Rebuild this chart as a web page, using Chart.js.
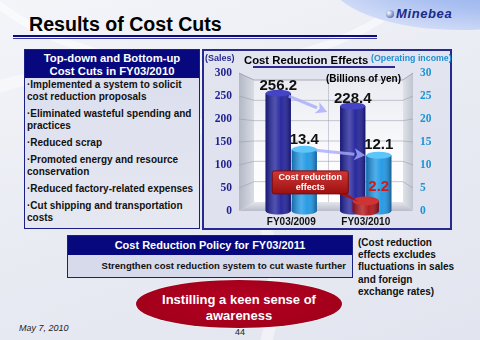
<!DOCTYPE html>
<html><head><meta charset="utf-8">
<script src="https://cdn.jsdelivr.net/npm/chart.js@4.4.1/dist/chart.umd.min.js"></script>
<style>
*{box-sizing:border-box;}
html,body{margin:0;padding:0;}
body{width:480px;height:340px;overflow:hidden;position:relative;font-family:'Liberation Sans',Arial,sans-serif;
 background:linear-gradient(160deg,#f4f5f9 0%,#e9ebf3 50%,#e2e5ef 100%);}
.abs{position:absolute;}
#arc1{left:-150px;top:70px;width:430px;height:430px;border-radius:50%;border:12px solid rgba(255,255,255,0.45);}
#arc2{left:-60px;top:-260px;width:520px;height:330px;border-radius:50%;border:8px solid rgba(255,255,255,0.5);}
#swoosh{left:330px;top:-70px;width:260px;height:100px;border-radius:50%;background:radial-gradient(ellipse at 70% 45%, #8aa8ec 0%, #a9bff1 45%, #d4def7 80%, rgba(235,240,250,0) 100%);}
#logo{left:386px;top:6px;font:italic bold 13px 'Liberation Sans',Arial,sans-serif;color:#1c2a8a;letter-spacing:0.6px;}
#logo span.g{display:inline-block;width:8px;height:8px;border-radius:50%;background:radial-gradient(circle at 35% 35%,#fff,#7a8fc8 60%,#34408a);margin-right:2px;}
#title{left:29px;top:13px;font:bold 19.6px/22px 'Liberation Sans',Arial,sans-serif;color:#000;}
#rule1{left:13px;top:35px;width:364px;height:2.3px;background:#0c0c7a;}
#rule2{left:13px;top:38px;width:364px;height:1.3px;background:#3a3aa6;}
#leftbox{left:24px;top:49px;width:176px;height:180px;border:1.5px solid #1a1f86;background:linear-gradient(180deg,#dadded,#e6e8f1);}
#leftbox .hd{height:28px;background:#08087e;color:#fff;font:bold 11.3px/13px 'Liberation Sans',Arial,sans-serif;text-align:center;padding-top:1.5px;}
#leftbox .bd{padding:1px 0 0 2px;font:bold 10px/12px 'Liberation Sans',Arial,sans-serif;color:#111;}
#leftbox p{margin:0 0 5px 0;}
#chartbox{left:202px;top:49px;width:250px;height:181px;border:2px solid #262a8e;background:linear-gradient(180deg,#e2e5f0,#dfe2ee);}
#cw{left:202px;top:49px;width:250px;height:181px;}
#cw canvas{display:block;}
#sales{left:205px;top:53px;font:bold 9px/10px 'Liberation Sans',Arial,sans-serif;color:#2a2a92;}
#ctitle{left:244px;top:54px;font:bold 11.3px/13px 'Liberation Sans',Arial,sans-serif;color:#000;}
#cline{left:253px;top:66px;width:142px;height:1.5px;background:#2a2a92;}
#oi{left:371px;top:53px;font:bold 8.8px/10px 'Liberation Sans',Arial,sans-serif;color:#1e90d4;}
#yen{left:326px;top:73px;font:bold 10px/12px 'Liberation Sans',Arial,sans-serif;color:#000;}
#policy{left:67px;top:235px;width:286px;height:43px;border:1.5px solid #1a1f86;background:#d6daeb;}
#policy .hd{height:18.5px;background:#08087e;color:#fff;font:bold 11px/18px 'Liberation Sans',Arial,sans-serif;text-align:center;}
#policy .bd{font:bold 9.5px/22px 'Liberation Sans',Arial,sans-serif;color:#111;text-align:right;padding-right:6px;}
#note{left:358px;top:237px;font:bold 10px/12.2px 'Liberation Sans',Arial,sans-serif;color:#111;}
#oval{left:136px;top:280px;width:206px;height:48px;border-radius:50%;background:radial-gradient(ellipse at 50% 45%,#b40022 0%,#a3001c 70%,#94001a 100%);box-shadow:0 0 0 1px rgba(255,255,255,0.35);color:#fff;text-align:center;font:bold 13px/15.5px 'Liberation Sans',Arial,sans-serif;padding-top:12px;}
#date{left:19px;top:323px;font:italic 9px/11px 'Liberation Sans',Arial,sans-serif;color:#222;}
#page{left:235px;top:327px;font:9px/11px 'Liberation Sans',Arial,sans-serif;color:#222;}
</style></head>
<body>
<div class="abs" id="arc1"></div>
<div class="abs" id="arc2"></div>
<div class="abs" id="swoosh"></div>
<div class="abs" id="logo"><span class="g"></span>Minebea</div>
<div class="abs" id="title">Results of Cost Cuts</div>
<div class="abs" id="rule1"></div><div class="abs" id="rule2"></div>

<div class="abs" id="leftbox">
 <div class="hd">Top-down and Bottom-up<br>Cost Cuts in FY03/2010</div>
 <div class="bd">
  <p>·Implemented a system to solicit<br>cost reduction proposals</p>
  <p>·Eliminated wasteful spending and<br>practices</p>
  <p>·Reduced scrap</p>
  <p>·Promoted energy and resource<br>conservation</p>
  <p>·Reduced factory-related expenses</p>
  <p>·Cut shipping and transportation<br>costs</p>
 </div>
</div>

<div class="abs" id="chartbox"></div>
<div class="abs" id="cw"><canvas id="c" width="250" height="181"></canvas></div>
<div class="abs" id="sales">(Sales)</div>
<div class="abs" id="ctitle">Cost Reduction Effects</div>
<div class="abs" id="cline"></div>
<div class="abs" id="oi">(Operating income)</div>
<div class="abs" id="yen">(Billions of yen)</div>

<div class="abs" id="policy">
 <div class="hd">Cost Reduction Policy for FY03/2011</div>
 <div class="bd">Strengthen cost reduction system to cut waste further</div>
</div>
<div class="abs" id="note">(Cost reduction<br>effects excludes<br>fluctuations in sales<br>and foreign<br>exchange rates)</div>
<div class="abs" id="oval">Instilling a keen sense of<br>awareness</div>
<div class="abs" id="date">May 7, 2010</div>
<div class="abs" id="page">44</div>

<script>
const categories = ['FY03/2009', 'FY03/2010'];
const salesValues = [256.2, 228.4];
const operatingIncomeValues = [13.4, 12.1];
const costReductionValues = [null, 2.2];
const salesTicks = [0, 50, 100, 150, 200, 250, 300];
const incomeTicks = [0, 5, 10, 15, 20, 25, 30];
const calloutLines = ['Cost reduction', 'effects'];

const SALES_COLOR = '#21219a';
const OI_COLOR = '#1e98e4';
const RED_COLOR = '#ae1418';
const CAPS = ['#cf3434', '#4444c4', '#5cc6fa'];
const RY = [4.5, 3.5, 3.5];
const DX1 = 15, DX2 = 10, DYT = 7, DYB = 9;
const SERIF = "'Liberation Serif', 'Times New Roman', 'DejaVu Serif', serif";
const AREA_TOP = 24, AREA_BOTTOM = 162;

function poly(ctx, pts, fill) {
  ctx.beginPath(); ctx.moveTo(pts[0][0], pts[0][1]);
  for (let i = 1; i < pts.length; i++) ctx.lineTo(pts[i][0], pts[i][1]);
  ctx.closePath(); ctx.fillStyle = fill; ctx.fill();
}
function arrow(ctx, x1, y1, x2, y2, color, shaft, head) {
  const ang = Math.atan2(y2 - y1, x2 - x1);
  const bx = x2 - Math.cos(ang) * head, by = y2 - Math.sin(ang) * head;
  ctx.save();
  ctx.strokeStyle = color; ctx.lineWidth = shaft; ctx.lineCap = 'butt';
  ctx.beginPath(); ctx.moveTo(x1, y1); ctx.lineTo(bx, by); ctx.stroke();
  ctx.fillStyle = color; ctx.beginPath();
  ctx.moveTo(x2, y2);
  ctx.lineTo(bx + Math.sin(ang) * head * 0.55, by - Math.cos(ang) * head * 0.55);
  ctx.lineTo(bx + Math.cos(ang) * head * 0.25, by + Math.sin(ang) * head * 0.25);
  ctx.lineTo(bx - Math.sin(ang) * head * 0.55, by + Math.cos(ang) * head * 0.55);
  ctx.closePath(); ctx.fill();
  ctx.restore();
}
function noVPad(s, w) { s.width = w; s.paddingTop = 0; s.paddingBottom = 0; }

const decor = {
  id: 'decor',
  beforeDraw(chart) {
    const {ctx, chartArea: a} = chart;
    const L = a.left, R = a.right, T = a.top, B = a.bottom;
    ctx.save();
    let g = ctx.createLinearGradient(0, T, 0, B);
    g.addColorStop(0, '#e9ebf1'); g.addColorStop(0.6, '#fbfbfd'); g.addColorStop(1, '#ffffff');
    ctx.fillStyle = g; ctx.fillRect(L, T + DYT, R - L, B - DYB - T - DYT);
    g = ctx.createLinearGradient(L - DX1, 0, L, 0);
    g.addColorStop(0, '#b3b8c6'); g.addColorStop(1, '#d9dce4');
    poly(ctx, [[L - DX1, T], [L, T + DYT], [L, B - DYB], [L - DX1, B]], g);
    g = ctx.createLinearGradient(R, 0, R + DX2, 0);
    g.addColorStop(0, '#dfe2e9'); g.addColorStop(1, '#bfc4d0');
    poly(ctx, [[R, T + DYT], [R + DX2, T], [R + DX2, B], [R, B - DYB]], g);
    g = ctx.createLinearGradient(0, B - DYB, 0, B);
    g.addColorStop(0, '#e4e6ec'); g.addColorStop(1, '#b9bdca');
    poly(ctx, [[L - DX1, B], [L, B - DYB], [R, B - DYB], [R + DX2, B]], g);
    const ys = chart.scales.y;
    ctx.strokeStyle = 'rgba(150,156,172,0.55)'; ctx.lineWidth = 1;
    ys.ticks.forEach(t => {
      if (t.value <= ys.min || t.value >= ys.max) return;
      const y = ys.getPixelForValue(t.value);
      const yp = T + DYT + (y - T) * (B - DYB - T - DYT) / (B - T);
      ctx.beginPath(); ctx.moveTo(L - DX1, y); ctx.lineTo(L, yp); ctx.lineTo(R, yp); ctx.lineTo(R + DX2, y); ctx.stroke();
    });
    const xs = chart.scales.x;
    const mid = (xs.getPixelForValue(0) + xs.getPixelForValue(1)) / 2;
    ctx.strokeStyle = 'rgba(150,156,172,0.45)';
    ctx.beginPath(); ctx.moveTo(mid, T + DYT); ctx.lineTo(mid, B - DYB); ctx.stroke();
    ctx.strokeStyle = 'rgba(140,146,162,0.7)';
    ctx.beginPath(); ctx.moveTo(L - DX1, T); ctx.lineTo(L, T + DYT); ctx.lineTo(R, T + DYT); ctx.lineTo(R + DX2, T); ctx.stroke();
    ctx.restore();
  },
  afterDatasetDraw(chart, args) {
    const ctx = chart.ctx, di = args.index;
    const ds = chart.data.datasets[di];
    ctx.save();
    args.meta.data.forEach((el, i) => {
      if (ds.data[i] == null) return;
      const {x, y, base, width: w} = el;
      const l = x - w / 2, r = x + w / 2, ry = RY[di];
      ctx.beginPath();
      ctx.moveTo(l, y); ctx.lineTo(l, base);
      ctx.ellipse(x, base, w / 2, ry, 0, Math.PI, 0, true);
      ctx.lineTo(r, y); ctx.closePath();
      ctx.fillStyle = ds.backgroundColor; ctx.fill();
      const g = ctx.createLinearGradient(l, 0, r, 0);
      g.addColorStop(0, 'rgba(0,0,30,0.30)');
      g.addColorStop(0.38, 'rgba(255,255,255,0.22)');
      g.addColorStop(0.62, 'rgba(255,255,255,0.04)');
      g.addColorStop(1, 'rgba(0,0,30,0.38)');
      ctx.fillStyle = g; ctx.fill();
      ctx.beginPath(); ctx.ellipse(x, y, w / 2, ry, 0, 0, Math.PI * 2);
      ctx.fillStyle = CAPS[di]; ctx.fill();
    });
    ctx.restore();
  },
  afterDatasetsDraw(chart) {
    const ctx = chart.ctx;
    const red = chart.getDatasetMeta(0).data;
    const sal = chart.getDatasetMeta(1).data;
    const inc = chart.getDatasetMeta(2).data;
    ctx.save();
    const ac = 'rgba(168,170,250,0.8)';
    arrow(ctx, sal[0].x + sal[0].width / 2 - 2, sal[0].y + 3, sal[1].x - sal[1].width / 2 - 13, sal[1].y + 6, ac, 3, 11);
    arrow(ctx, inc[0].x + inc[0].width / 2 - 1, inc[0].y + 1, inc[1].x - inc[1].width / 2 - 1, inc[1].y, ac, 3, 11);
    ctx.textAlign = 'center'; ctx.textBaseline = 'middle';
    ctx.font = 'bold 15px "Liberation Sans", Arial, sans-serif';
    ctx.fillStyle = '#111';
    sal.forEach((el, i) => ctx.fillText(salesValues[i].toFixed(1), el.x, el.y - 7));
    inc.forEach((el, i) => ctx.fillText(operatingIncomeValues[i].toFixed(1), el.x, el.y - 10));
    red.forEach((el, i) => {
      if (costReductionValues[i] == null) return;
      ctx.fillStyle = '#d01a1a';
      ctx.fillText(costReductionValues[i].toFixed(1), el.x + 13, el.y - 14);
      const bw = 76, bh = 23, br = el.x - 17.5, bl = br - bw, bt = el.y - 30;
      const g = ctx.createLinearGradient(0, bt, 0, bt + bh);
      g.addColorStop(0, '#cf3a36'); g.addColorStop(1, '#9c1010');
      poly(ctx, [[bl + 64, bt + bh - 1], [bl + 74, bt + bh - 1], [el.x - 7, el.y + 1]], '#a51414');
      ctx.beginPath(); ctx.roundRect(bl, bt, bw, bh, 2);
      ctx.fillStyle = g; ctx.fill();
      ctx.strokeStyle = '#7c0a0a'; ctx.lineWidth = 1; ctx.stroke();
      ctx.fillStyle = '#fff';
      ctx.font = 'bold 9px "Liberation Sans", Arial, sans-serif';
      ctx.fillText(calloutLines[0], bl + bw / 2, bt + 6.5);
      ctx.fillText(calloutLines[1], bl + bw / 2, bt + 17);
      ctx.font = 'bold 15px "Liberation Sans", Arial, sans-serif';
    });
    ctx.restore();
  }
};

const chart = new Chart(document.getElementById('c'), {
  type: 'bar',
  data: {
    labels: categories,
    datasets: [
      {label: 'Cost reduction effects', data: costReductionValues, yAxisID: 'y2', backgroundColor: RED_COLOR,
       grouped: false, categoryPercentage: 0.35, barPercentage: 1, borderWidth: 0},
      {label: 'Sales', data: salesValues, yAxisID: 'y', backgroundColor: SALES_COLOR,
       categoryPercentage: 0.7, barPercentage: 0.96, borderWidth: 0},
      {label: 'Operating income', data: operatingIncomeValues, yAxisID: 'y2', backgroundColor: OI_COLOR,
       categoryPercentage: 0.7, barPercentage: 0.96, borderWidth: 0}
    ]
  },
  options: {
    responsive: false, animation: false, devicePixelRatio: 1,
    layout: {padding: {top: AREA_TOP, left: 0, right: 0, bottom: 0}},
    plugins: {legend: {display: false}, tooltip: {enabled: false}},
    scales: {
      x: {offset: true, grid: {display: false, drawTicks: false}, border: {display: false},
          ticks: {font: {family: 'Liberation Sans', weight: 'bold', size: 10}, color: '#111', padding: 5, maxRotation: 0},
          afterFit: s => { s.height = 19; s.paddingLeft = 0; s.paddingRight = 0; }},
      y: {position: 'left', min: 0, max: 300,
          afterBuildTicks: s => { s.ticks = salesTicks.map(v => ({value: v})); },
          grid: {display: false, drawTicks: false}, border: {display: false},
          ticks: {font: {family: SERIF, weight: 'bold', size: 11.5}, color: '#1f1f8f', padding: 22},
          afterFit: s => noVPad(s, 52)},
      y2: {position: 'right', min: 0, max: 30,
          afterBuildTicks: s => { s.ticks = incomeTicks.map(v => ({value: v})); },
          grid: {display: false, drawTicks: false}, border: {display: false},
          ticks: {font: {family: SERIF, weight: 'bold', size: 11.5}, color: '#1e93d6', padding: 17},
          afterFit: s => noVPad(s, 49)}
    }
  },
  plugins: [decor]
});
for (let k = 0; k < 3; k++) {
  const a = chart.chartArea;
  const dt = a.top - AREA_TOP, db = AREA_BOTTOM - a.bottom;
  if (Math.abs(dt) < 0.5 && Math.abs(db) < 0.5) break;
  const p = chart.options.layout.padding;
  p.top -= dt; p.bottom -= db;
  chart.update();
}
</script>
</body></html>
